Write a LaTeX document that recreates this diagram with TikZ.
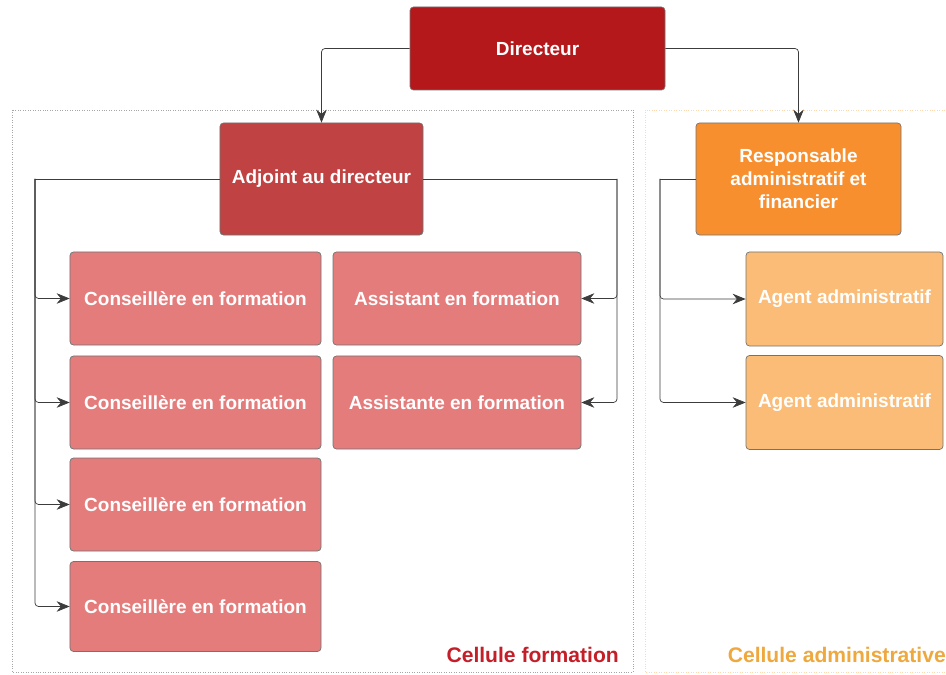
\documentclass[tikz,border=0pt]{standalone}
\usepackage{fontspec}
\setmainfont{Liberation Sans}
\usetikzlibrary{arrows.meta}

\definecolor{dirred}{RGB}{181,24,27}
\definecolor{adjred}{RGB}{192,66,66}
\definecolor{consred}{RGB}{229,124,124}
\definecolor{resporange}{RGB}{247,143,46}
\definecolor{agentorange}{RGB}{250,188,118}
\definecolor{formtext}{RGB}{196,30,40}
\definecolor{admintext}{RGB}{238,168,62}
\definecolor{linegray}{RGB}{60,60,60}

\begin{document}
\begin{tikzpicture}[x=0.2mm, y=-0.2mm,
	box/.style={draw=black!55, rounded corners=2pt, text=white, font=\bfseries\fontsize{10.8}{13}\selectfont, align=center, inner sep=2pt},
	conn/.style={draw=linegray, thin, rounded corners=2pt, -{Stealth[length=2.6mm,width=2.1mm]}},
	bus/.style={draw=linegray, thin, rounded corners=2pt}]
	\useasboundingbox (0,0) rectangle (946,675);

	% cellules
	\draw[densely dotted, draw=black!35] (12,110) rectangle (633,672);
	\draw[densely dotted, draw=orange!30] (645,110) rectangle (960,672);
	\node[anchor=east, text=formtext, font=\bfseries\fontsize{12}{14}\selectfont]  (cf) at (625,655) {Cellule formation};
	\node[anchor=east, text=admintext, font=\bfseries\fontsize{12}{14}\selectfont] (ca) at (952,655) {Cellule administrative};

	\node[box, fill=dirred,      minimum width=51mm,   minimum height=16.6mm] (dir) at (537.5,48.5) {Directeur};
	\node[box, fill=adjred,      minimum width=40.6mm, minimum height=22.4mm] (adj) at (321.5,179)  {Adjoint au directeur};
	\node[box, fill=resporange,  minimum width=41mm,   minimum height=22.4mm] (raf) at (798.5,179)  {Responsable\\administratif et\\financier};

	\node[box, fill=consred, minimum width=50.2mm, minimum height=18.6mm] (c1) at (195.5,298.5) {Conseillère en formation};
	\node[box, fill=consred, minimum width=50.2mm, minimum height=18.6mm] (c2) at (195.5,402.5) {Conseillère en formation};
	\node[box, fill=consred, minimum width=50.2mm, minimum height=18.6mm] (c3) at (195.5,504.5) {Conseillère en formation};
	\node[box, fill=consred, minimum width=50.2mm, minimum height=18mm]   (c4) at (195.5,606.5) {Conseillère en formation};

	\node[box, fill=consred, minimum width=49.6mm, minimum height=18.6mm] (as1) at (457,298.5) {Assistant en formation};
	\node[box, fill=consred, minimum width=49.6mm, minimum height=18.6mm] (as2) at (457,402.5) {Assistante en formation};

	\node[box, fill=agentorange, minimum width=39.4mm, minimum height=18.8mm] (ag1) at (844.5,299)   {Agent administratif};
	\node[box, fill=agentorange, minimum width=39.4mm, minimum height=18.8mm] (ag2) at (844.5,402.5) {Agent administratif};

	\coordinate (lbus) at (35,179);
	\coordinate (rbus) at (617,179);
	\coordinate (abus) at (660,179);

	\draw[conn] (dir.west) -| (adj);
	\draw[conn] (dir.east) -| (raf);

	\draw[bus]  (adj.west) -- (lbus);
	\draw[conn] (lbus) |- (c1);
	\draw[conn] (lbus) |- (c2);
	\draw[conn] (lbus) |- (c3);
	\draw[conn] (lbus) |- (c4);

	\draw[bus]  (adj.east) -- (rbus);
	\draw[conn] (rbus) |- (as1);
	\draw[conn] (rbus) |- (as2);

	\draw[bus]  (raf.west) -- (abus);
	\draw[conn] (abus) |- (ag1);
	\draw[conn] (abus) |- (ag2);
\end{tikzpicture}
\end{document}
